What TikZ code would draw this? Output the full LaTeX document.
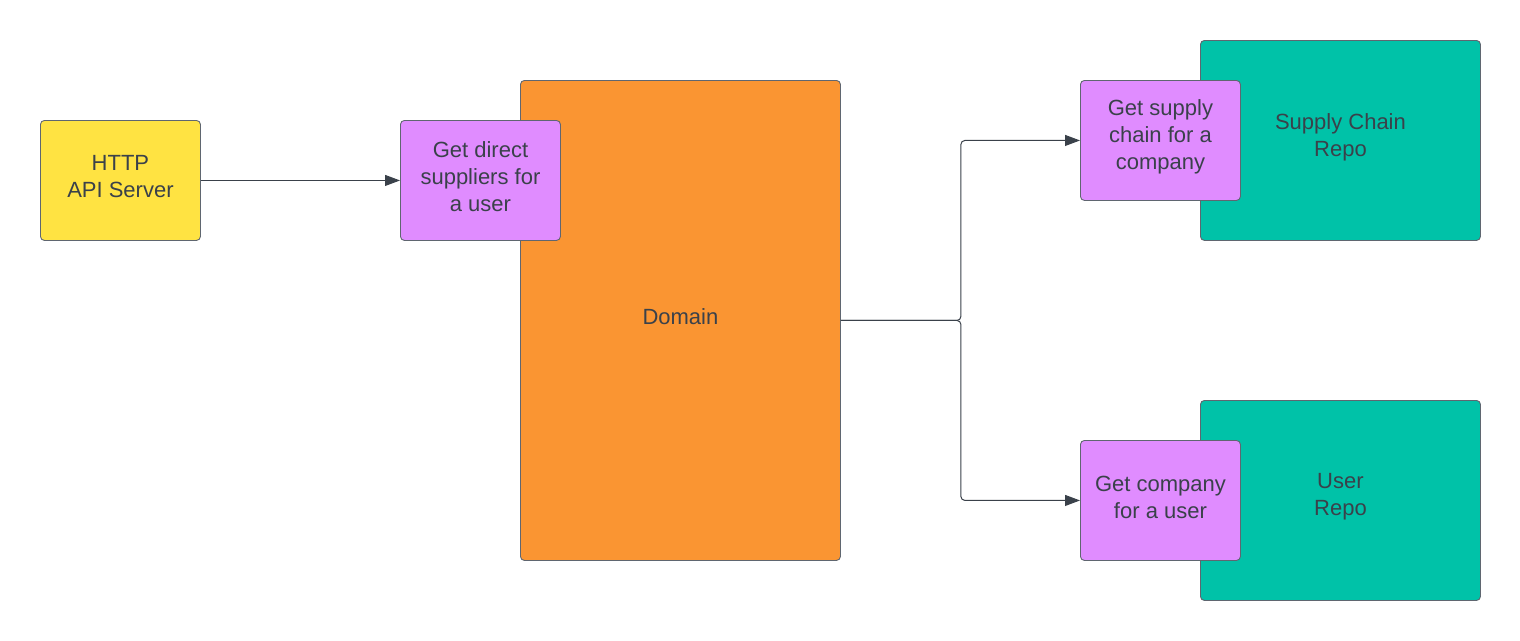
\documentclass[tikz,border=0pt]{standalone}
\usepackage{fontspec}
\setmainfont{Liberation Sans}
\usetikzlibrary{arrows.meta}
\definecolor{cyel}{HTML}{FFE342}
\definecolor{cpur}{HTML}{E08CFF}
\definecolor{corg}{HTML}{FA9532}
\definecolor{cteal}{HTML}{00C2A8}
\definecolor{ctext}{HTML}{3A414A}
\definecolor{cline}{HTML}{5F6670}
\begin{document}
\begin{tikzpicture}[x=1pt,y=-1pt,
  box/.style={draw=cline, line width=0.9pt, rounded corners=4pt, inner sep=0pt, anchor=north west},
  lab/.style={align=center, text=ctext, font=\fontsize{22pt}{27pt}\selectfont, inner sep=0pt, yshift=3.5pt},
  conn/.style={draw=ctext, line width=1pt, rounded corners=4pt, -{Triangle[length=15pt,width=11pt]}}]
\useasboundingbox (0,0) rectangle (1520,640);
\fill[white] (0,0) rectangle (1520,640);
\node[box, fill=cyel, minimum width=160pt, minimum height=120pt, label={[lab]center:{HTTP\\API Server}}] (http) at (40,120) {};
\node[box, fill=corg, minimum width=320pt, minimum height=480pt, label={[lab]center:{Domain}}] (dom) at (520,80) {};
\node[box, fill=cpur, minimum width=160pt, minimum height=120pt, label={[lab]center:{Get direct\\suppliers for\\a user}}] (gds) at (400,120) {};
\node[box, fill=cteal, minimum width=280pt, minimum height=200pt, label={[lab]center:{Supply Chain\\Repo}}] (scr) at (1200,40) {};
\node[box, fill=cpur, minimum width=160pt, minimum height=120pt, label={[lab]center:{Get supply\\chain for a\\company}}] (gsc) at (1080,80) {};
\node[box, fill=cteal, minimum width=280pt, minimum height=200pt, label={[lab]center:{User\\Repo}}] (ur) at (1200,400) {};
\node[box, fill=cpur, minimum width=160pt, minimum height=120pt, label={[lab]center:{Get company\\for a user}}] (gcu) at (1080,440) {};
\draw[conn] (http.east) -- (gds.west);
\draw[conn] (dom.east) -- ++(120,0) |- (gsc.west);
\draw[conn] (dom.east) -- ++(120,0) |- (gcu.west);
\end{tikzpicture}
\end{document}
